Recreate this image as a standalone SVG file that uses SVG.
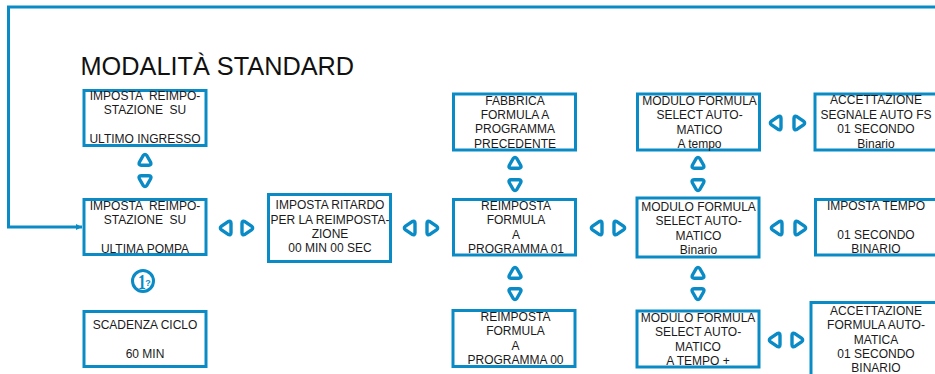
<svg xmlns="http://www.w3.org/2000/svg" width="935" height="374" viewBox="0 0 935 374">
<style>
.b{fill:none;stroke:#0a8bc6;stroke-width:3}
.t{font-family:"Liberation Sans",Arial,sans-serif;font-size:12px;fill:#1a1a1a;text-anchor:middle;white-space:pre}
.a{fill:none;stroke:#0a8bc6;stroke-width:3.400;stroke-linejoin:round}
</style>
<defs>
<path id="u" class="a" d="M-1.800-4.500Q0-6.800 1.800-4.500L5.500 2Q7 5.200 4 5.200H-4Q-7 5.200-5.500 2Z"/>
<path id="d" class="a" d="M-1.800 4.500Q0 6.800 1.800 4.500L5.500-2Q7-5.200 4-5.200H-4Q-7-5.200-5.500-2Z"/>
<path id="l" class="a" d="M-4.500-1.800Q-6.800 0-4.500 1.800L1.800 6.200Q5 7.800 5 4.800V-4.800Q5-7.800 1.800-6.200Z"/>
<path id="r" class="a" d="M4.500-1.800Q6.800 0 4.500 1.800L-1.800 6.200Q-5 7.800-5 4.800V-4.800Q-5-7.800-1.800-6.200Z"/>
<marker id="m" markerWidth="8" markerHeight="8" refX="6" refY="3" orient="auto" markerUnits="userSpaceOnUse"><path d="M0 0L6 3L0 6Z" fill="#0a8bc6"/></marker>
</defs>
<rect width="935" height="374" fill="#fff"/>
<g id="connectors">
<path d="M935 7H8.500V227H82" fill="none" stroke="#0a8bc6" stroke-width="3" marker-end="url(#m)"/>
<use href="#u" x="145" y="160"/><use href="#d" x="145" y="181"/>
<use href="#l" x="226" y="228"/><use href="#r" x="247" y="228"/>
<use href="#l" x="410" y="228"/><use href="#r" x="432" y="228"/>
<use href="#u" x="515" y="163"/><use href="#d" x="515" y="185"/>
<use href="#u" x="515" y="273"/><use href="#d" x="515" y="294"/>
<use href="#l" x="597" y="228"/><use href="#r" x="619" y="228"/>
<use href="#u" x="698" y="163"/><use href="#d" x="698" y="185"/>
<use href="#u" x="698" y="273"/><use href="#d" x="698" y="294"/>
<use href="#l" x="776" y="123"/><use href="#r" x="799" y="123"/>
<use href="#l" x="777" y="228"/><use href="#r" x="800" y="228"/>
<use href="#l" x="775" y="340"/><use href="#r" x="797" y="340"/>
</g>
<text id="title" x="80.500" y="75" font-family="'Liberation Sans',Arial,sans-serif" font-size="25.300px" fill="#111">MODALITÀ STANDARD</text>
<g id="n1"><rect class="b" x="84" y="90.500" width="122" height="55"/><text class="t"><tspan x="145" y="100">IMPOSTA  REIMPO-</tspan><tspan x="145" y="114">STAZIONE  SU</tspan><tspan x="145" y="143">ULTIMO INGRESSO</tspan></text></g>
<g id="n2"><rect class="b" x="84" y="199.500" width="122" height="55"/><text class="t"><tspan x="145" y="210">IMPOSTA  REIMPO-</tspan><tspan x="145" y="224">STAZIONE  SU</tspan><tspan x="145" y="253">ULTIMA POMPA</tspan></text></g>
<g id="info"><circle cx="143" cy="281" r="10.500" fill="none" stroke="#0a8bc6" stroke-width="3"/><text transform="translate(142 288.500) scale(.75 1)" font-family="'Liberation Serif',serif" font-weight="bold" font-size="21px" fill="#0a8bc6" text-anchor="middle">1</text><text x="148" y="286" font-family="'Liberation Sans',sans-serif" font-weight="bold" font-size="9px" fill="#0a8bc6" text-anchor="middle">?</text></g>
<g id="n3"><rect class="b" x="84" y="311.500" width="122" height="55"/><text class="t"><tspan x="145" y="329">SCADENZA CICLO</tspan><tspan x="145" y="358">60 MIN</tspan></text></g>
<g id="n4"><rect class="b" x="268.500" y="194.500" width="122" height="67"/><text class="t"><tspan x="330" y="209">IMPOSTA RITARDO</tspan><tspan x="330" y="224">PER LA REIMPOSTA-</tspan><tspan x="330" y="238">ZIONE</tspan><tspan x="330" y="252">00 MIN 00 SEC</tspan></text></g>
<g id="n5"><rect class="b" x="453.500" y="94" width="122" height="56"/><text class="t"><tspan x="515" y="105">FABBRICA</tspan><tspan x="515" y="119">FORMULA A</tspan><tspan x="515" y="133">PROGRAMMA</tspan><tspan x="515" y="148">PRECEDENTE</tspan></text></g>
<g id="n6"><rect class="b" x="453.500" y="199.500" width="122" height="55.500"/><text class="t"><tspan x="516" y="210">REIMPOSTA</tspan><tspan x="516" y="224">FORMULA</tspan><tspan x="516" y="239">A</tspan><tspan x="516" y="253">PROGRAMMA 01</tspan></text></g>
<g id="n7"><rect class="b" x="453" y="310.500" width="122" height="56"/><text class="t"><tspan x="515.500" y="321">REIMPOSTA</tspan><tspan x="515.500" y="335">FORMULA</tspan><tspan x="515.500" y="350">A</tspan><tspan x="515.500" y="364">PROGRAMMA 00</tspan></text></g>
<g id="n8"><rect class="b" x="637.500" y="94" width="122" height="56"/><text class="t"><tspan x="699.500" y="105">MODULO FORMULA</tspan><tspan x="699.500" y="119">SELECT AUTO-</tspan><tspan x="699.500" y="134">MATICO</tspan><tspan x="699.500" y="148">A tempo</tspan></text></g>
<g id="n9"><rect class="b" x="637" y="198" width="122" height="59"/><text class="t"><tspan x="698.500" y="211">MODULO FORMULA</tspan><tspan x="698.500" y="225">SELECT AUTO-</tspan><tspan x="698.500" y="240">MATICO</tspan><tspan x="698.500" y="254">Binario</tspan></text></g>
<g id="n10"><rect class="b" x="637" y="311" width="122" height="56"/><text class="t"><tspan x="698" y="322">MODULO FORMULA</tspan><tspan x="698" y="336">SELECT AUTO-</tspan><tspan x="698" y="351">MATICO</tspan><tspan x="698" y="365">A TEMPO +</tspan></text></g>
<g id="n11"><rect class="b" x="815" y="94" width="130" height="56"/><text class="t"><tspan x="876" y="104">ACCETTAZIONE</tspan><tspan x="876" y="119">SEGNALE AUTO FS</tspan><tspan x="876" y="133">01 SECONDO</tspan><tspan x="876" y="148">Binario</tspan></text></g>
<g id="n12"><rect class="b" x="815.500" y="199.500" width="130" height="55.500"/><text class="t"><tspan x="876" y="210">IMPOSTA TEMPO</tspan><tspan x="876" y="239">01 SECONDO</tspan><tspan x="876" y="253">BINARIO</tspan></text></g>
<g id="n13"><rect class="b" x="811" y="302.500" width="134" height="85"/><text class="t"><tspan x="876" y="315">ACCETTAZIONE</tspan><tspan x="876" y="329">FORMULA AUTO-</tspan><tspan x="876" y="344">MATICA</tspan><tspan x="876" y="358">01 SECONDO</tspan><tspan x="876" y="372">BINARIO</tspan></text></g>
</svg>
